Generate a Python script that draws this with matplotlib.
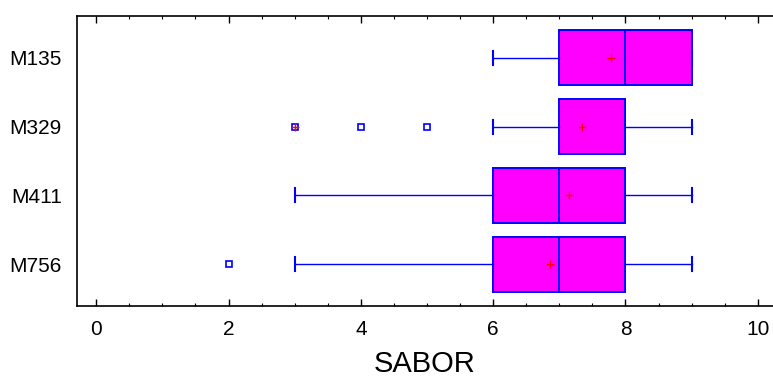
import matplotlib
matplotlib.use("Agg")
import matplotlib.pyplot as plt
from matplotlib.ticker import MultipleLocator

plt.rcParams['font.family'] = ['Liberation Sans', 'DejaVu Sans']

samples = ["M135", "M329", "M411", "M756"]
whislo = [6, 6, 3, 3]
q1 = [7, 7, 6, 6]
med = [8, 8, 7, 7]
q3 = [9, 8, 8, 8]
whishi = [9, 9, 9, 9]
means = [7.78, 7.34, 7.14, 6.86]
outliers = [[], [4, 5], [], [2]]
far_outliers = [[], [3], [], []]

stats = []
for i, s in enumerate(samples):
    stats.append(dict(label=s, whislo=whislo[i], q1=q1[i], med=med[i], q3=q3[i],
                      whishi=whishi[i], mean=means[i], fliers=outliers[i]))

fig = plt.figure(figsize=(7.73, 3.8), dpi=100)
ax = fig.add_axes([77/773, 74/380, 696/773, 290/380])

pos = [4, 3, 2, 1]
blue = '#0000ff'
ax.bxp(stats, positions=pos, orientation='horizontal', widths=0.8,
       patch_artist=True, showmeans=True,
       boxprops=dict(facecolor='#ff00ff', edgecolor=blue, linewidth=1.4),
       medianprops=dict(color=blue, linewidth=1.4),
       whiskerprops=dict(color=blue, linewidth=1.0),
       capprops=dict(color=blue, linewidth=1.5),
       capwidths=0.2,
       meanprops=dict(marker='+', markeredgecolor='red', markersize=6, markeredgewidth=1.0),
       flierprops=dict(marker='s', markerfacecolor='none', markeredgecolor=blue,
                       markersize=5, markeredgewidth=1.2))

# far outside points: square with a plus
for p, vals in zip(pos, far_outliers):
    for v in vals:
        ax.plot(v, p, marker='s', mfc='none', mec=blue, ms=5, mew=1.2, ls='none', zorder=4)
        ax.plot(v, p, marker='+', mec='red', ms=6, mew=1.0, ls='none', zorder=5)

ax.set_xlim(-0.29, 10.23)
ax.set_ylim(0.39, 4.61)
ax.set_yticks(pos)
ax.set_yticklabels(samples, fontsize=15)
ax.xaxis.set_major_locator(MultipleLocator(2))
ax.xaxis.set_minor_locator(MultipleLocator(0.5))
ax.tick_params(axis='x', which='major', direction='in', top=True, length=5, width=1.0,
               labelsize=15, pad=10)
ax.tick_params(axis='x', which='minor', direction='in', top=True, length=2.5, width=0.8)
ax.tick_params(axis='y', length=0, pad=11)
ax.spines['right'].set_visible(False)
for sp in ['left', 'top', 'bottom']:
    ax.spines[sp].set_linewidth(1.2)
ax.set_xlabel("SABOR", fontsize=21, labelpad=8)

fig.savefig("out.png", dpi=100)
